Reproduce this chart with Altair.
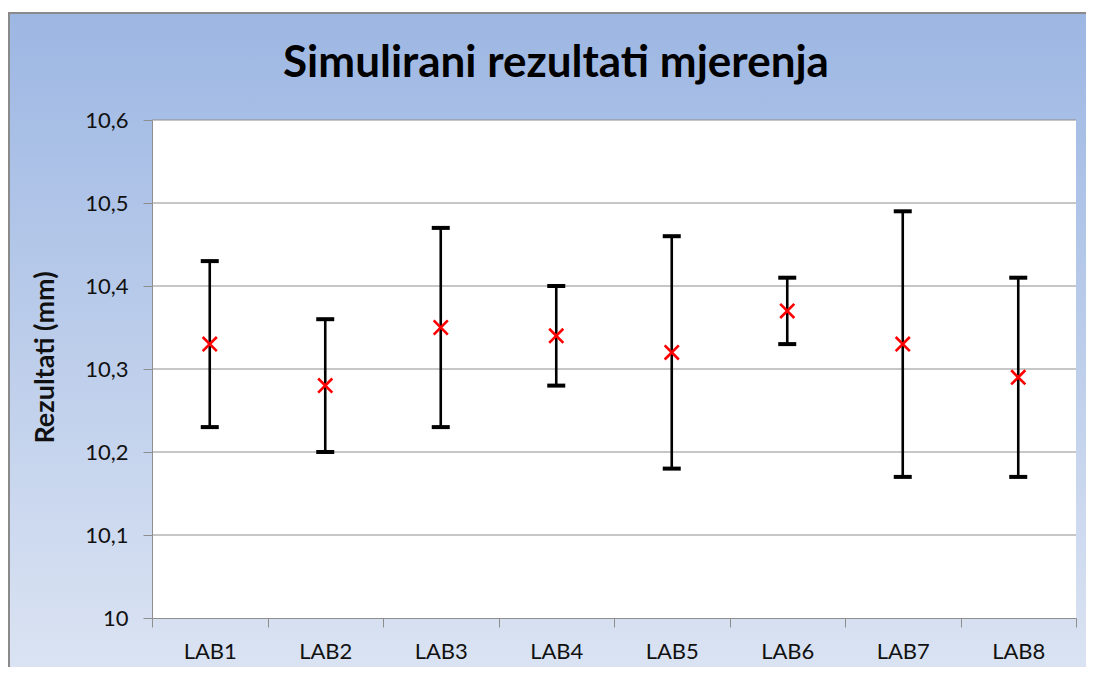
import altair as alt
import pandas as pd

labs = ["LAB1", "LAB2", "LAB3", "LAB4", "LAB5", "LAB6", "LAB7", "LAB8"]
means = [10.33, 10.28, 10.35, 10.34, 10.32, 10.37, 10.33, 10.29]
lows = [10.23, 10.20, 10.23, 10.28, 10.18, 10.33, 10.17, 10.17]
highs = [10.43, 10.36, 10.47, 10.40, 10.46, 10.41, 10.49, 10.41]
y_ticks = [10.0, 10.1, 10.2, 10.3, 10.4, 10.5, 10.6]
title_text = ["Simulirani rezultati mjerenja"]

df = pd.DataFrame({"lab": labs, "mean": means, "low": lows, "high": highs})
grid_df = pd.DataFrame({"v": y_ticks[1:]})

W, H = 924, 498
FONT = "Lato"
GRID = "#8e8e8e"

yscale = alt.Scale(domain=[10.0, 10.6], nice=False, zero=False)
yaxis = alt.Axis(
    values=y_ticks, title="Rezultati (mm)", grid=False,
    labelExpr="replace(format(datum.value, '~g'), '.', ',')",
    labelFont=FONT, labelFontSize=22, labelColor="#111111", labelPadding=15,
    tickSize=9, tickColor=GRID, domainColor=GRID, zindex=1,
    titleFont=FONT, titleFontSize=27, titleFontWeight="bold", titleColor="#111111",
    titleX=-107, titleY=237, titleBaseline="middle", titleAnchor="middle",
)
xscale = alt.Scale(type="band", paddingInner=0, paddingOuter=0)
xaxis = alt.Axis(
    title=None, labelAngle=0, tickBand="extent", grid=False,
    labelFont=FONT, labelFontSize=22, labelColor="#111111", labelPadding=14,
    tickSize=9, tickColor=GRID, domainColor=GRID, zindex=1,
)

bg = alt.Chart(alt.Data(values=[{}])).mark_rect(
    fill=alt.Gradient(
        gradient="linear",
        stops=[alt.GradientStop(color="#9db7e3", offset=0),
               alt.GradientStop(color="#dde5f3", offset=1)],
        x1=0, x2=0, y1=0, y2=1,
    ),
    stroke="#8a8a8a", strokeWidth=2,
).encode(x=alt.value(-143), x2=alt.value(W + 40), y=alt.value(-107), y2=alt.value(H + 80))

title = alt.Chart(alt.Data(values=[{"t": title_text[0]}])).mark_text(
    font=FONT, fontSize=44, fontWeight="bold", color="black",
    align="center", baseline="alphabetic",
).encode(text="t:N", x=alt.value(404), y=alt.value(-43))

plot_bg = alt.Chart(alt.Data(values=[{}])).mark_rect(fill="white").encode(
    x=alt.value(0), x2=alt.value(W), y=alt.value(0), y2=alt.value(H)
)

grid = alt.Chart(grid_df).mark_rule(color=GRID, strokeWidth=1).encode(
    y=alt.Y("v:Q", scale=yscale, axis=yaxis), x=alt.value(0), x2=alt.value(W)
)

xenc = alt.X("lab:N", scale=xscale, axis=xaxis, sort=labs, bandPosition=0.5)

bars = alt.Chart(df).mark_rule(color="black", strokeWidth=2.6).encode(
    x=xenc, y=alt.Y("low:Q", scale=yscale, axis=yaxis), y2="high:Q"
)
cap_lo = alt.Chart(df).mark_tick(color="black", thickness=4, size=18, orient="horizontal", opacity=1).encode(
    x=xenc, y=alt.Y("low:Q", scale=yscale, axis=yaxis)
)
cap_hi = alt.Chart(df).mark_tick(color="black", thickness=4, size=18, orient="horizontal", opacity=1).encode(
    x=xenc, y=alt.Y("high:Q", scale=yscale, axis=yaxis)
)
pts = alt.Chart(df).mark_point(
    shape="M-1,-1L1,1M-1,1L1,-1", filled=False, color="#ff0000", strokeWidth=2.6, size=200, opacity=1
).encode(x=xenc, y=alt.Y("mean:Q", scale=yscale, axis=yaxis))

chart = alt.layer(bg, title, plot_bg, grid, bars, cap_lo, cap_hi, pts).properties(
    width=W, height=H,
    autosize=alt.AutoSizeParams(type="none"),
    padding={"left": 144, "top": 112, "right": 10, "bottom": 49},
).configure(background="white").configure_view(stroke=None)

chart.save("out.html", embed_options={"renderer": "svg", "actions": False})
